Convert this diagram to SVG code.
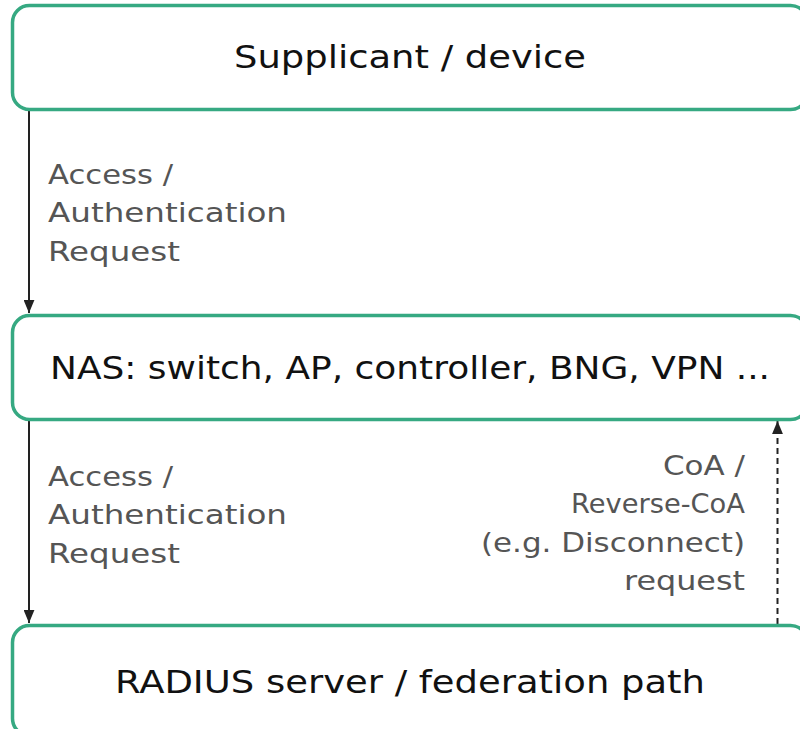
<svg xmlns="http://www.w3.org/2000/svg" width="800" height="729" viewBox="0 0 800 729">
<defs>
<style>
.box{fill:#fff;stroke:#36a982;stroke-width:3.5}
.main{font-family:"DejaVu Sans",sans-serif;font-size:32px;fill:#111;text-anchor:middle}
.lbl{font-family:"DejaVu Sans",sans-serif;font-size:27px;fill:#555}
.r{text-anchor:end}
.edge{stroke:#222;stroke-width:2;fill:none}
</style>
<marker id="ahb" viewBox="0 0 12 10" refX="12" refY="5" markerWidth="13" markerHeight="11" markerUnits="userSpaceOnUse" orient="auto"><path d="M0,0 L12,5 L0,10 z" fill="#222"/></marker>
</defs>
<rect width="800" height="729" fill="#fff"/>
<g id="connectors">
<line class="edge" x1="29" y1="111" x2="29" y2="313" marker-end="url(#ahb)"/>
<line class="edge" x1="29" y1="421" x2="29" y2="623" marker-end="url(#ahb)"/>
<line class="edge" x1="777.5" y1="624" x2="777.5" y2="421" stroke-dasharray="6,4" marker-end="url(#ahb)"/>
<text class="lbl" x="48" y="184" textLength="125" lengthAdjust="spacingAndGlyphs">Access /</text>
<text class="lbl" x="48" y="222" textLength="239" lengthAdjust="spacingAndGlyphs">Authentication</text>
<text class="lbl" x="48" y="261" textLength="132" lengthAdjust="spacingAndGlyphs">Request</text>
<text class="lbl" x="48" y="486" textLength="125" lengthAdjust="spacingAndGlyphs">Access /</text>
<text class="lbl" x="48" y="524" textLength="239" lengthAdjust="spacingAndGlyphs">Authentication</text>
<text class="lbl" x="48" y="563" textLength="132" lengthAdjust="spacingAndGlyphs">Request</text>
<text class="lbl r" x="745" y="475" textLength="82" lengthAdjust="spacingAndGlyphs">CoA /</text>
<text class="lbl r" x="745" y="513" textLength="174" lengthAdjust="spacingAndGlyphs">Reverse-CoA</text>
<text class="lbl r" x="745" y="552" textLength="264" lengthAdjust="spacingAndGlyphs">(e.g. Disconnect)</text>
<text class="lbl r" x="745" y="590" textLength="121" lengthAdjust="spacingAndGlyphs">request</text>
</g>
<g id="supplicant">
<rect class="box" x="12.5" y="5.5" width="795" height="104" rx="17"/>
<text class="main" x="410" y="68" textLength="352" lengthAdjust="spacingAndGlyphs">Supplicant / device</text>
</g>
<g id="nas">
<rect class="box" x="12.5" y="315.5" width="795" height="104" rx="17"/>
<text class="main" x="410" y="379" textLength="720" lengthAdjust="spacingAndGlyphs">NAS: switch, AP, controller, BNG, VPN ...</text>
</g>
<g id="radius">
<rect class="box" x="12.5" y="625.5" width="795" height="110" rx="17"/>
<text class="main" x="410" y="693" textLength="590" lengthAdjust="spacingAndGlyphs">RADIUS server / federation path</text>
</g>
</svg>
